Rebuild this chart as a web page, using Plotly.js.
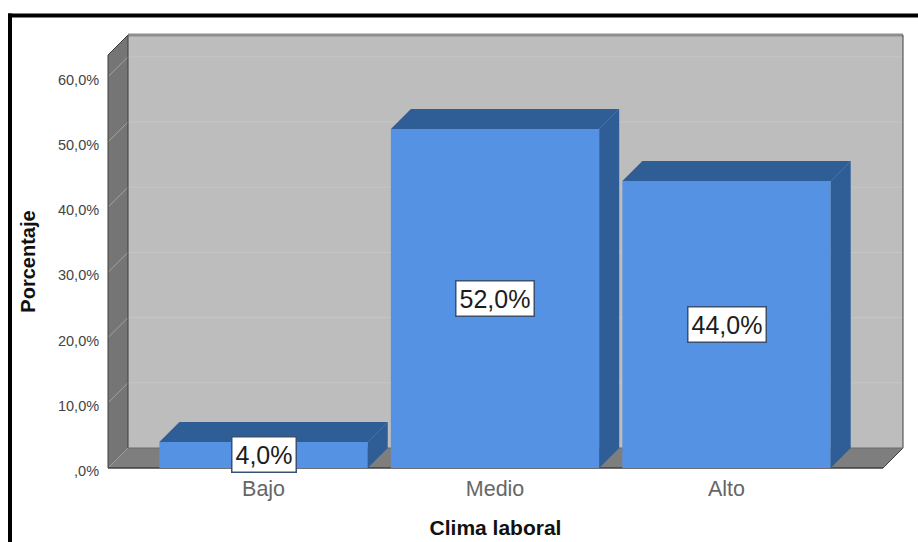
<!DOCTYPE html>
<html>
<head>
<meta charset="utf-8">
<script src="https://cdn.plot.ly/plotly-3.0.1.min.js"></script>
<style>
  html, body { margin: 0; padding: 0; background: #fff; }
  #chart { width: 918px; height: 542px; }
</style>
</head>
<body>
<div id="chart"></div>
<script>
// Distribución del clima laboral (porcentaje por categoría)
const categories = ["Bajo", "Medio", "Alto"];
const percentages = [4, 52, 44];
const yTicks = [0, 10, 20, 30, 40, 50, 60];
const yTickLabels = [",0%", "10,0%", "20,0%", "30,0%", "40,0%", "50,0%", "60,0%"];
const dataLabels = ["4,0%", "52,0%", "44,0%"];

const W = 918, H = 542;
const plot = { left: 108, right: 883, top: 55, bottom: 468 };
const xRange = [-0.672, 2.676];
const yRange = [0, 63.34];
const barWidth = 0.9;
const depthPx = 20;

const colors = {
  front: "#5592E3", dark: "#2F5D95", wall: "#BDBDBD", sideWall: "#757575",
  floor: "#7E7E7E", grid: "#C6C6C6", sideGrid: "#A2A2A2", edge: "#3F3F3F", topEdge: "#8E8E8E"
};

const pxPerX = (plot.right - plot.left) / (xRange[1] - xRange[0]);
const pxPerY = (plot.bottom - plot.top) / (yRange[1] - yRange[0]);
const dx = depthPx / pxPerX;   // profundidad en unidades del eje x
const dy = depthPx / pxPerY;   // profundidad en unidades del eje y

// Convierte unidades de datos a coordenadas "paper", que pueden salir del área del eje
const xp = v => (v - xRange[0]) / (xRange[1] - xRange[0]);
const yp = v => (v - yRange[0]) / (yRange[1] - yRange[0]);
const polyPath = pts => "M" + pts.map(p => xp(p[0]) + "," + yp(p[1])).join("L") + "Z";
const paperShape = (pts, fill) => ({
  type: "path", xref: "paper", yref: "paper", layer: "below",
  path: polyPath(pts), fillcolor: fill, line: { width: 0 }
});
const paperLine = (a, b, color, width) => ({
  type: "line", xref: "paper", yref: "paper", layer: "below",
  x0: xp(a[0]), y0: yp(a[1]), x1: xp(b[0]), y1: yp(b[1]),
  line: { color: color, width: width }
});

const x0 = xRange[0], x1 = xRange[1], yTop = yRange[1];
const shapes = [
  paperShape([[x0 + dx, dy], [x1 + dx, dy], [x1 + dx, yTop + dy], [x0 + dx, yTop + dy]], colors.wall),
  paperShape([[x0, 0], [x0 + dx, dy], [x0 + dx, yTop + dy], [x0, yTop]], colors.sideWall),
  paperShape([[x0, 0], [x1, 0], [x1 + dx, dy], [x0 + dx, dy]], colors.floor)
];
yTicks.slice(1).forEach(t => {
  shapes.push(paperLine([x0 + dx, t + dy], [x1 + dx, t + dy], colors.grid, 1));
  shapes.push(paperLine([x0, t], [x0 + dx, t + dy], colors.sideGrid, 1));
});
shapes.push(
  paperLine([x0 + dx, yTop + dy], [x1 + dx, yTop + dy], colors.topEdge, 3),
  paperLine([x0 + dx, dy], [x0 + dx, yTop + dy], colors.edge, 1),
  paperLine([x1 + dx, dy], [x1 + dx, yTop + dy], colors.edge, 1),
  paperLine([x0, 0], [x0, yTop], colors.edge, 1),
  paperLine([x0, yTop], [x0 + dx, yTop + dy], colors.edge, 1),
  paperLine([x1, 0], [x1 + dx, dy], colors.edge, 1),
  paperLine([x0 + dx, dy], [x1 + dx, dy], "#6A6A6A", 1),
  paperLine([x0, 0], [x1, 0], colors.edge, 1.5)
);

// Marco negro superior e izquierdo del recuadro
const frame = { left: 10, top: 15.5 };
const pageX = px => (px - plot.left) / (plot.right - plot.left);
const pageY = px => (plot.bottom - px) / (plot.bottom - plot.top);
const frameLine = (ax, ay, bx, by) => ({
  type: "line", xref: "paper", yref: "paper", layer: "below",
  x0: pageX(ax), y0: pageY(ay), x1: pageX(bx), y1: pageY(by),
  line: { color: "#000", width: 4 }
});
shapes.push(frameLine(frame.left, frame.top - 2, frame.left, H), frameLine(frame.left - 2, frame.top, W, frame.top));

const xPos = categories.map((_, i) => i);

// Caras frontales de las barras
const traces = [{
  type: "bar", x: xPos, y: percentages, width: barWidth,
  marker: { color: colors.front, line: { width: 0 } },
  hoverinfo: "skip", showlegend: false
}];

// Caras superior y lateral de cada barra, desplazadas según la profundidad
const facePolygon = pts => ({
  type: "scatter", mode: "lines", fill: "toself", fillcolor: colors.dark,
  x: pts.map(p => p[0]), y: pts.map(p => p[1]),
  line: { width: 0, color: colors.dark }, hoverinfo: "skip", showlegend: false, cliponaxis: false
});
percentages.forEach((v, i) => {
  const l = i - barWidth / 2, r = i + barWidth / 2;
  traces.push(facePolygon([[l, v], [r, v], [r + dx, v + dy], [l + dx, v + dy], [l, v]]));
  traces.push(facePolygon([[r, 0], [r + dx, dy], [r + dx, v + dy], [r, v], [r, 0]]));
});

const annotations = percentages.map((v, i) => ({
  x: i, y: v / 2, xref: "x", yref: "y", text: dataLabels[i], showarrow: false,
  font: { family: "Liberation Sans, Arial, sans-serif", size: 25, color: "#1c1c1c" },
  bgcolor: "#fff", bordercolor: "#3A5070", borderwidth: 1.5, borderpad: 3
}));

const layout = {
  width: W, height: H, autosize: false,
  margin: { l: plot.left, r: W - plot.right, t: plot.top, b: H - plot.bottom, pad: 0 },
  paper_bgcolor: "#fff", plot_bgcolor: "rgba(0,0,0,0)",
  showlegend: false, shapes: shapes, annotations: annotations,
  font: { family: "Liberation Sans, Arial, sans-serif" },
  xaxis: {
    type: "linear", range: xRange, tickmode: "array", tickvals: xPos, ticktext: categories,
    showgrid: false, zeroline: false, showline: false, ticks: "outside", ticklen: 1, tickcolor: "rgba(0,0,0,0)",
    tickfont: { size: 21.5, color: "#666" },
    title: { text: "Clima laboral", standoff: 20, font: { size: 21, color: "#111", weight: 700 } }
  },
  yaxis: {
    range: yRange, tickmode: "array", tickvals: yTicks, ticktext: yTickLabels,
    showgrid: false, zeroline: false, showline: false, ticks: "outside", ticklen: 5, tickcolor: "rgba(0,0,0,0)",
    ticklabelshift: 3,
    tickfont: { size: 14.5, color: "#444" },
    title: { text: "Porcentaje", standoff: 16, font: { size: 20, color: "#111", weight: 700 } }
  }
};

Plotly.newPlot("chart", traces, layout, { displayModeBar: false, staticPlot: true });
</script>
</body>
</html>
